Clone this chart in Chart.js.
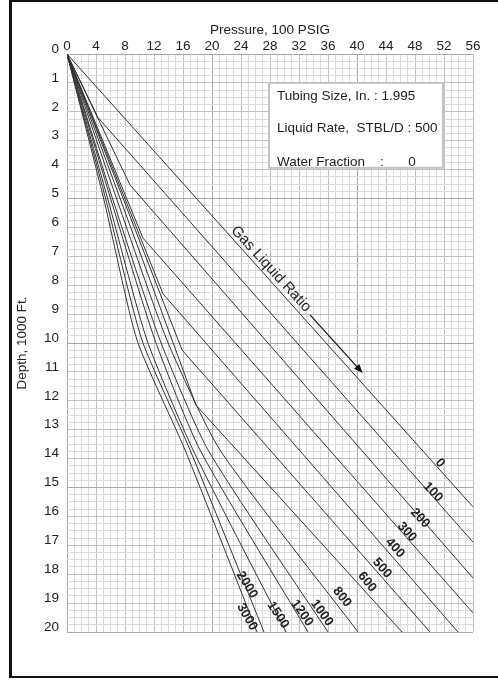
<!DOCTYPE html>
<html>
<head>
<meta charset="utf-8">
<title>Gas Liquid Ratio gradient curves</title>
<script src="https://cdn.jsdelivr.net/npm/chart.js@4.4.1/dist/chart.umd.min.js"></script>
<style>
  body { margin: 0; background: #fff; }
  #wrap { position: relative; width: 498px; height: 682px; overflow: hidden; }
  #frame { position: absolute; left: 9px; top: 0; width: 600px; height: 678px;
           box-sizing: border-box; border: 2px solid #111; border-left-width: 3px; }
  #chart { position: absolute; left: 0; top: 0; }
</style>
</head>
<body>
<div id="wrap">
  <div id="frame"></div>
  <canvas id="chart" width="498" height="682"></canvas>
</div>
<script>
// pressure in 100 psig, depth in 1000 ft
const glrValues = [0, 100, 200, 300, 400, 500, 600, 800, 1000, 1200, 1500, 2000, 3000];

// low ratios: straight pieces with one break
const p0 = [0, 56];             const d0 = [0, 15.67];
const p100 = [0, 4.28, 56];     const d100 = [0, 2.2, 16.89];
const p200 = [0, 8.69, 56];     const d200 = [0, 4.53, 18.13];
const p300 = [0, 10.48, 56];    const d300 = [0, 6.37, 19.34];
const p400 = [0, 13.24, 53.93]; const d400 = [0, 8.3, 20];
const p500 = [0, 15.86, 50.07]; const d500 = [0, 10.24, 20];
const p600 = [0, 17.79, 46.21]; const d600 = [0, 12.15, 20];

// higher ratios bend gradually, read at these depths
const depthSteps = [0, 5.05, 9.9, 13.7, 20];
const p800 = [0, 6.9, 13.79, 21.1, 40.14];
const p1000 = [0, 6.34, 12.83, 19.45, 36.0];
const p1200 = [0, 6.07, 12.14, 18.34, 33.24];
const p1500 = [0, 5.66, 11.03, 17.38, 30.21];
const p2000 = [0, 5.38, 10.34, 16.97, 27.17];
const p3000 = [0, 5.1, 9.66, 16.28, 26.21];

// curve labels: [text, pressure, depth, angle]
const curveLabels = [
  ['0', 51.45, 14.15, 48], ['100', 50.48, 15.16, 46], ['200', 48.69, 16.06, 46],
  ['300', 46.9, 16.54, 47], ['400', 45.24, 17.09, 48], ['500', 43.45, 17.79, 49],
  ['600', 41.38, 18.27, 51], ['800', 37.93, 18.79, 52], ['1000', 35.17, 19.34, 54],
  ['1200', 32.41, 19.34, 55], ['1500', 29.1, 19.41, 57], ['2000', 24.83, 18.37, 58],
  ['3000', 24.83, 19.48, 60]
];

const infoLines = ['Tubing Size, In. : 1.995', 'Liquid Rate,  STBL/D : 500'];

const FONT = 'Liberation Sans, Arial, sans-serif';
const INK = '#222';

function points(pArr, dArr) {
  return pArr.map((p, i) => ({ x: p, y: dArr[i] }));
}

const curves = [
  [p0, d0, 0], [p100, d100, 0], [p200, d200, 0], [p300, d300, 0],
  [p400, d400, 0], [p500, d500, 0], [p600, d600, 0],
  [p800, depthSteps, 0.2], [p1000, depthSteps, 0.2], [p1200, depthSteps, 0.2],
  [p1500, depthSteps, 0.2], [p2000, depthSteps, 0.2], [p3000, depthSteps, 0.2]
];

const datasets = curves.map((c, i) => ({
  label: 'GLR ' + glrValues[i],
  data: points(c[0], c[1]),
  borderColor: '#333',
  borderWidth: 1,
  pointRadius: 0,
  fill: false,
  tension: c[2]
}));

function gridColor(v, big, mid) {
  if (Math.abs(v % big) < 1e-6) return '#a8a8a8';
  if (Math.abs(v % mid) < 1e-6) return '#c0c0c0';
  return '#dcdcdc';
}

const annotate = {
  id: 'annotate',
  afterDatasetsDraw(chart) {
    const ctx = chart.ctx;
    const x = chart.scales.x, y = chart.scales.y;
    ctx.save();
    ctx.fillStyle = INK;
    ctx.textAlign = 'center';
    ctx.textBaseline = 'middle';

    ctx.font = 'bold 13px ' + FONT;
    curveLabels.forEach(l => {
      ctx.save();
      ctx.translate(x.getPixelForValue(l[1]), y.getPixelForValue(l[2]));
      ctx.rotate(l[3] * Math.PI / 180);
      ctx.fillText(l[0], 0, 0);
      ctx.restore();
    });

    // Gas Liquid Ratio caption and arrow
    ctx.save();
    ctx.font = '15px ' + FONT;
    ctx.translate(x.getPixelForValue(28.14), y.getPixelForValue(7.44));
    ctx.rotate(47.5 * Math.PI / 180);
    ctx.fillText('Gas Liquid Ratio', 0, 0);
    ctx.restore();

    let x1 = x.getPixelForValue(33.52), y1 = y.getPixelForValue(9.03);
    let x2 = x.getPixelForValue(40.79), y2 = y.getPixelForValue(11.04);
    let a = Math.atan2(y2 - y1, x2 - x1);
    ctx.strokeStyle = '#111';
    ctx.lineWidth = 1.2;
    ctx.beginPath();
    ctx.moveTo(x1, y1);
    ctx.lineTo(x2 - 6 * Math.cos(a), y2 - 6 * Math.sin(a));
    ctx.stroke();
    ctx.fillStyle = '#111';
    ctx.beginPath();
    ctx.moveTo(x2, y2);
    ctx.lineTo(x2 - 9 * Math.cos(a) + 3.5 * Math.sin(a), y2 - 9 * Math.sin(a) - 3.5 * Math.cos(a));
    ctx.lineTo(x2 - 9 * Math.cos(a) - 3.5 * Math.sin(a), y2 - 9 * Math.sin(a) + 3.5 * Math.cos(a));
    ctx.closePath();
    ctx.fill();

    // info box
    let bx1 = x.getPixelForValue(27.86), by1 = y.getPixelForValue(1.0);
    let bx2 = x.getPixelForValue(51.86), by2 = y.getPixelForValue(3.94);
    ctx.fillStyle = '#fff';
    ctx.fillRect(bx1, by1, bx2 - bx1, by2 - by1);
    ctx.strokeStyle = '#c4c4c4';
    ctx.lineWidth = 2;
    ctx.strokeRect(bx1, by1, bx2 - bx1, by2 - by1);

    ctx.fillStyle = INK;
    ctx.font = '13.5px ' + FONT;
    ctx.textAlign = 'left';
    let tx = bx1 + 8;
    ctx.fillText(infoLines[0], tx, by1 + 13);
    ctx.fillText(infoLines[1], tx, by1 + 45);
    ctx.fillText('Water Fraction', tx, by1 + 79);
    ctx.textAlign = 'center';
    ctx.fillText(':', bx1 + 113, by1 + 79);
    ctx.fillText('0', bx1 + 143, by1 + 79);
    ctx.restore();
  }
};

new Chart('chart', {
  type: 'line',
  data: { datasets: datasets },
  options: {
    responsive: false,
    animation: false,
    events: [],
    layout: { padding: { left: 10, top: 0, right: 25, bottom: 50 } },
    plugins: { legend: { display: false }, tooltip: { enabled: false } },
    scales: {
      x: {
        type: 'linear',
        position: 'top',
        min: 0,
        max: 56,
        ticks: {
          stepSize: 1,
          autoSkip: false,
          maxRotation: 0,
          padding: 0,
          color: INK,
          font: { family: FONT, size: 13.5 },
          callback: v => (v % 4 === 0 ? v : '')
        },
        grid: { drawTicks: false, lineWidth: 1, color: c => gridColor(c.tick.value, 20, 4) },
        border: { display: false },
        title: {
          display: true,
          text: 'Pressure, 100 PSIG',
          color: INK,
          font: { family: FONT, size: 13.5 },
          padding: { top: 22, bottom: 0 }
        },
        afterFit: s => { s.height = 54; s.paddingLeft = 0; s.paddingRight = 0; }
      },
      y: {
        type: 'linear',
        reverse: true,
        min: 0,
        max: 20,
        ticks: {
          stepSize: 0.25,
          autoSkip: false,
          padding: 8,
          labelOffset: -5,
          color: INK,
          font: { family: FONT, size: 13.5 },
          callback: v => (Number.isInteger(v) ? v : '')
        },
        grid: { drawTicks: false, lineWidth: 1, color: c => gridColor(c.tick.value, 5, 1) },
        border: { display: false },
        title: {
          display: true,
          text: 'Depth, 1000 Ft.',
          color: INK,
          font: { family: FONT, size: 13.5 },
          padding: { top: 4, bottom: 0 }
        },
        afterFit: s => { s.width = 57; s.paddingTop = 0; s.paddingBottom = 0; }
      }
    }
  },
  plugins: [annotate]
});
</script>
</body>
</html>
